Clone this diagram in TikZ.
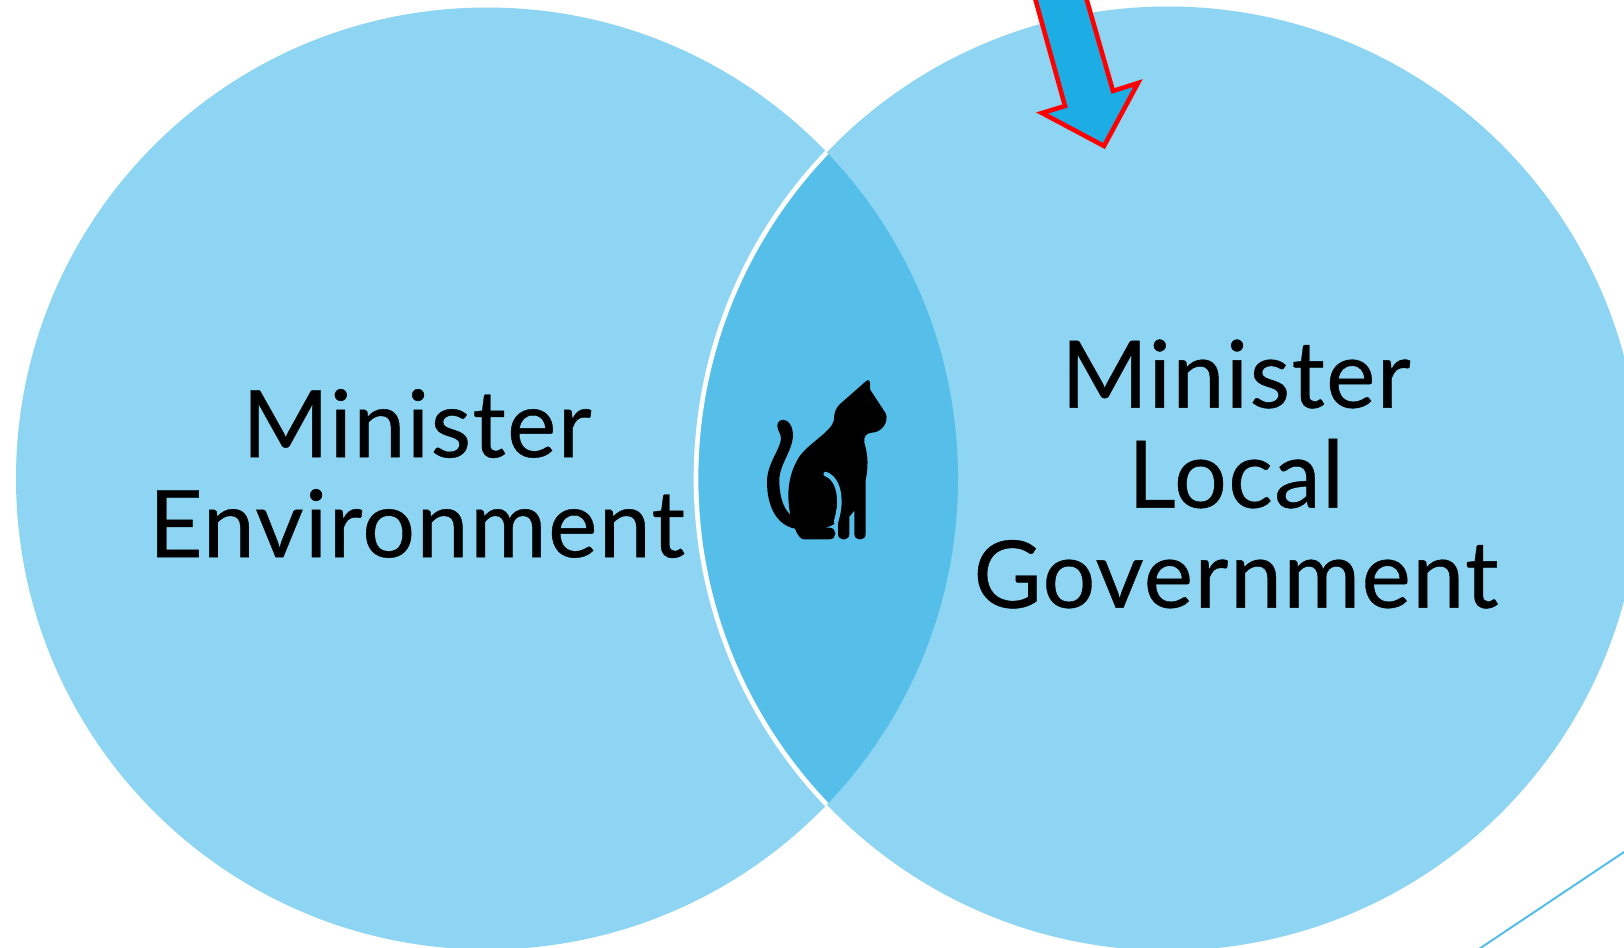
\documentclass[tikz,border=0pt]{standalone}
\usepackage{fontspec}
\setmainfont[LetterSpace=1.5,FakeBold=0.4]{Lato}
\definecolor{circ}{HTML}{8DD5F2}
\definecolor{lens}{HTML}{55BFEA}
\definecolor{arrowfill}{HTML}{1CADE4}
\tikzset{
  vennlabel/.style={align=center,font=\fontsize{70}{75}\selectfont,text=black,inner sep=0pt},
  connectorline/.style={draw=lens,line width=1.5pt},
}
\begin{document}
\begin{tikzpicture}[x=0.75pt,y=-0.75pt]
\useasboundingbox (0,0) rectangle (1624,947);
\clip (0,0) rectangle (1624,947);
\fill[white] (0,0) rectangle (1624,947);
\fill[circ] (487,478.5) circle[radius=471];
\fill[circ] (1168,478.5) circle[radius=472];
\begin{scope}
  \clip (487,478.5) circle[radius=471];
  \fill[lens] (1168,478.5) circle[radius=472];
  \draw[white,line width=3.5pt] (1168,478.5) circle[radius=472];
\end{scope}
% cat
\begin{scope}[shift={(720,360)},x=0.25pt,y=-0.25pt]
  \fill[black] (441,61) .. controls (447,58) and (450,62) .. (450,70) -- (450,88) -- (497,160)
    .. controls (508,185) and (485,218) .. (455,218)
    .. controls (438,220) and (430,230) .. (433,248)
    .. controls (445,290) and (445,320) .. (437,360)
    -- (437,522) .. controls (437,544) and (403,544) .. (403,522)
    -- (403,452) -- (388,470) -- (388,522)
    .. controls (388,544) and (354,544) .. (354,522)
    -- (354,480) -- (345,490)
    .. controls (335,498) and (322,502) .. (310,503)
    -- (328,503) .. controls (352,503) and (352,538) .. (328,538)
    -- (250,538) .. controls (240,536) and (230,520) .. (225,506)
    .. controls (170,495) and (141,440) .. (141,365)
    .. controls (141,310) and (183,265) .. (183,235)
    .. controls (183,220) and (172,212) .. (172,197)
    .. controls (172,172) and (212,170) .. (218,215)
    .. controls (225,265) and (178,310) .. (178,360)
    .. controls (178,410) and (190,445) .. (211,464)
    .. controls (198,400) and (206,340) .. (238,290)
    .. controls (265,250) and (335,215) .. (342,180)
    .. controls (342,155) and (348,145) .. (360,132) -- cycle;
  \draw[lens,line width=3.4pt,line cap=round] (317,342) .. controls (345,352) and (358,385) .. (358,425)
    .. controls (358,450) and (352,470) .. (348,486);
\end{scope}
% arrow
\draw[red,fill=arrowfill,line width=3.4pt,miter limit=10] (1030,-20) -- (1065,106) -- (1042,113) -- (1104,146) -- (1138,83) -- (1113,91) -- (1081,-20) -- cycle;
\coordinate (lineA) at (1642,840);
\coordinate (lineB) at (1467,957);
\draw[connectorline] (lineA) -- (lineB);
\node[vennlabel] (envlabel) at (417,473.5) {Minister\\Environment};
\node[vennlabel] (lglabel) at (1236,474) {Minister\\Local\\Government};
\end{tikzpicture}
\end{document}
